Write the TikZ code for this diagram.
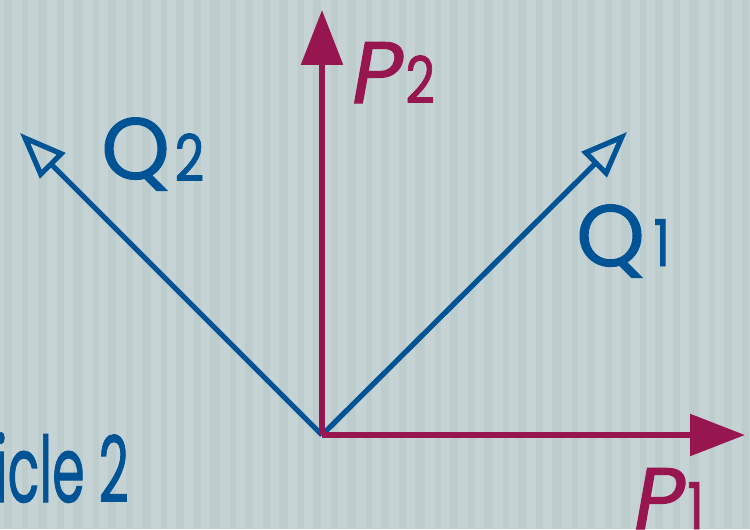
\documentclass[tikz,border=0pt]{standalone}
\usepackage{fontspec}
\newfontfamily\labelfont[FakeBold=1.2]{Poppins}
\usepackage{tikz}
\usetikzlibrary{arrows.meta,positioning,calc}

\definecolor{vecblue}{RGB}{0,84,150}
\definecolor{vecmag}{RGB}{152,22,80}
\definecolor{bgcol}{RGB}{197,211,212}
\definecolor{bgstripe}{RGB}{189,204,205}

\begin{document}
\begin{tikzpicture}[
    x=0.025cm, y=-0.025cm,
    pvec/.style={draw=vecmag, line width=4.3pt, -{Triangle[length=39pt, width=29pt]}},
    qvec/.style={draw=vecblue, line width=3.7pt, -{Triangle[open, length=33pt, width=25pt, line width=3.7pt]}},
    biglabel/.style={inner sep=0pt, font=\labelfont\fontsize{62}{62}\selectfont},
    sublabel/.style={inner sep=0pt, font=\labelfont\fontsize{46}{46}\selectfont}
]

% background with faint vertical stripes
\clip (0,0) rectangle (750,529);
\fill[bgcol] (0,0) rectangle (750,529);
\foreach \x/\w in {4/8,22/6,38/9,57/7,73/10,93/6,108/8,126/7,142/9,161/6,
                   176/8,194/7,210/10,230/6,245/8,263/7,279/9,298/6,313/8,331/7,
                   347/9,366/6,381/8,399/7,415/10,435/6,450/8,468/7,484/9,503/6,
                   518/8,536/7,552/10,572/6,587/8,605/7,621/9,640/6,655/8,673/7,
                   689/10,709/6,724/8,742/7}
    \fill[bgstripe] (\x,0) rectangle ++(\w,529);

% origin and tips
\coordinate (o) at (322,435);
\coordinate (p1) at (745,435);
\coordinate (p2) at (322,10);
\coordinate (q1) at (627,132);
\coordinate (q2) at (20,133);

% vectors
\draw[qvec] (o) -- (q1);
\draw[qvec] (o) -- (q2);
\draw[pvec] (o) -- (p2);
\draw[pvec] (o) -- (p1);

% labels
\node[biglabel, text=vecblue, anchor=base west] (q2l) at (101,179) {Q};
\node[sublabel, text=vecblue, anchor=base west] (q2s) at ($(q2l.base east)+(4,2)$) {\scalebox{0.8}[1]{2}};
\node[biglabel, text=vecblue, anchor=base west] (q1l) at (576,266) {Q};
\node[sublabel, text=vecblue, anchor=base west] (q1s) at ($(q1l.base east)+(8,0)$) {\scalebox{0.8}[1]{1}};
\node[biglabel, text=vecmag, anchor=base west] (p2l) at (352,103) {\itshape P};
\node[sublabel, text=vecmag, anchor=base west] (p2s) at ($(p2l.base east)+(2,0)$) {\scalebox{0.8}[1]{2}};
\node[biglabel, text=vecmag, anchor=base west] (p1l) at (634,529) {\itshape P};
\node[sublabel, text=vecmag, anchor=base west] (p1s) at ($(p1l.base east)+(2,0)$) {\scalebox{0.8}[1]{1}};

% cut-off caption
\node[biglabel, text=vecblue, anchor=base east] (cap) at (129,502) {\scalebox{0.6}[1.05]{Particle 2}};

\end{tikzpicture}
\end{document}
